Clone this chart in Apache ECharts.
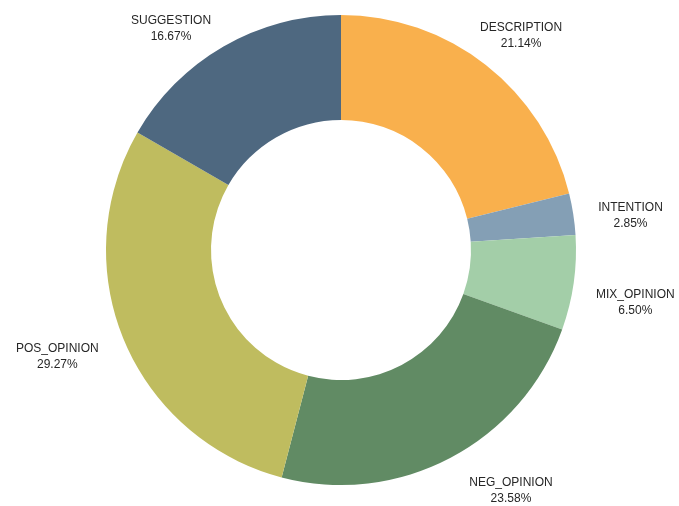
<!DOCTYPE html>
<html>
<head>
<meta charset="utf-8">
<script src="https://cdn.jsdelivr.net/npm/echarts@6/dist/echarts.min.js"></script>
<style>html,body{margin:0;padding:0;background:#fff}#c{width:679px;height:506px}</style>
</head>
<body>
<div id="c"></div>
<script>
const categories = ['DESCRIPTION', 'INTENTION', 'MIX_OPINION', 'NEG_OPINION', 'POS_OPINION', 'SUGGESTION'];
const values = [21.14, 2.85, 6.50, 23.58, 29.27, 16.67];
const colors = ['#F9B04D', '#849FB5', '#A3CEA8', '#618B64', '#BFBC5F', '#4E6880'];

const chart = echarts.init(document.getElementById('c'), null, { renderer: 'canvas' });
const CX = 341, CY = 250, R_IN = 130, R_OUT = 235;
const LABEL_GAP = 24;           // distance of label box from outer edge
const ANGLE_SHIFT = 2 * Math.PI / 180;
const total = values.reduce((a, b) => a + b, 0);

function place(angle, w, h) {
  const sx = Math.sin(angle), sy = -Math.cos(angle);
  const d = Math.min(Math.abs(sx) > 1e-6 ? w / Math.abs(sx) : Infinity,
                     Math.abs(sy) > 1e-6 ? h / Math.abs(sy) : Infinity);
  const R = R_OUT + LABEL_GAP + d;
  return { x: CX + R * sx, y: CY + R * sy, sx: sx };
}

chart.setOption({
  animation: false,
  backgroundColor: '#fff',
  series: [{
    type: 'pie',
    center: [CX, CY],
    radius: [R_IN, R_OUT],
    startAngle: 90,
    clockwise: true,
    avoidLabelOverlap: false,
    data: categories.map((n, i) => ({ name: n, value: values[i], itemStyle: { color: colors[i] } })),
    label: {
      show: true,
      position: 'outside',
      color: '#262626',
      fontFamily: 'Liberation Sans, Arial, sans-serif',
      fontSize: 12,
      lineHeight: 16,
      formatter: p => p.name + '\n' + values[p.dataIndex].toFixed(2) + '%'
    },
    labelLine: { show: false },
    emphasis: { disabled: true },
    labelLayout: function (p) {
      const i = p.dataIndex;
      let before = 0;
      for (let k = 0; k < i; k++) before += values[k];
      let a = (before + values[i] / 2) / total * 2 * Math.PI + ANGLE_SHIFT;
      const w = p.labelRect.width / 2, h = p.labelRect.height / 2;
      const top = 12, bottom = 507;
      const Rg = R_OUT + LABEL_GAP;
      let pos = place(a, w, h);
      if (pos.y + h > bottom) {
        // pushed up from the bottom edge: slide outward until the box clears the ring
        const y = bottom - h;
        const dy = (y - h) - CY;
        const dx = Math.sqrt(Math.max(0, Rg * Rg - dy * dy));
        pos = { x: CX + Math.sign(pos.sx) * (dx + w), y: y };
      } else if (pos.y - h < top) {
        // pushed down from the top edge: rotate toward the horizontal
        const deg = (a * 180 / Math.PI) % 360;
        const target = deg < 180 ? Math.PI / 2 : 3 * Math.PI / 2;
        const step = (target > a ? 1 : -1) * Math.PI / 720;
        let n = 0;
        while (pos.y - h < top && n < 400) { a += step; pos = place(a, w, h); n++; }
      }
      return { x: pos.x, y: pos.y, align: 'center', verticalAlign: 'middle' };
    }
  }]
});
</script>
</body>
</html>
